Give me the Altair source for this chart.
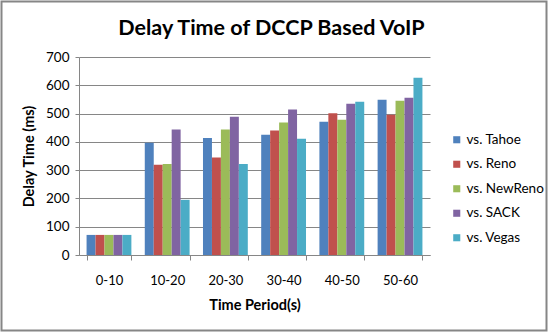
import altair as alt
import pandas as pd

periods = ["0-10", "10-20", "20-30", "30-40", "40-50", "50-60"]
series = ["vs. Tahoe", "vs. Reno", "vs. NewReno", "vs. SACK", "vs. Vegas"]
tahoe = [71, 397, 414, 425, 471, 549]
reno = [71, 319, 345, 440, 501, 496]
newreno = [71, 322, 444, 468, 478, 545]
sack = [71, 444, 489, 514, 535, 556]
vegas = [71, 195, 322, 411, 542, 627]
colors = ["#4F81BD", "#C0504D", "#9BBB59", "#8064A2", "#4BACC6"]
title_text = "Delay Time of DCCP Based VoIP"

rows = []
for name, vals in zip(series, [tahoe, reno, newreno, sack, vegas]):
    for p, v in zip(periods, vals):
        rows.append({"period": p, "series": name, "value": v})
df = pd.DataFrame(rows)

FONT = "Lato"
W, H = 351, 198
L, T, R, B = 79, 57, 118, 77

bars = alt.Chart(df).mark_bar().encode(
    x=alt.X("period:N", sort=periods,
            scale=alt.Scale(paddingInner=0.23, paddingOuter=0.13),
            axis=alt.Axis(title="Time Period(s)", labelAngle=0, tickBand="extent",
                          domainColor="#868686", tickColor="#868686", tickSize=5,
                          labelFont=FONT, labelFontSize=13, labelColor="black",
                          labelPadding=14, titleFont=FONT, titleFontSize=14.5,
                          titleFontWeight="bold", titleColor="black", titlePadding=11)),
    xOffset=alt.XOffset("series:N", sort=series),
    y=alt.Y("value:Q", scale=alt.Scale(domain=[0, 700]),
            axis=alt.Axis(title="Delay Time (ms)", values=list(range(0, 701, 100)),
                          domainColor="#868686", tickColor="#868686", tickSize=4,
                          gridColor="#868686", labelFont=FONT, labelFontSize=13.5,
                          labelColor="black", labelPadding=6, titleFont=FONT,
                          titleFontSize=14.5, titleFontWeight="bold", titleColor="black",
                          titlePadding=9)),
    color=alt.Color("series:N", sort=series,
                    scale=alt.Scale(domain=series, range=colors),
                    legend=alt.Legend(title=None, orient="none", legendX=W + 20,
                                      legendY=76, symbolType="square", symbolSize=50,
                                      symbolStrokeWidth=0, rowPadding=9.5,
                                      labelFont=FONT, labelFontSize=13.5,
                                      labelColor="black", labelOffset=3)),
)

border = alt.Chart(pd.DataFrame({"a": [0]})).mark_rect(
    fill=None, stroke="#868686", strokeWidth=2
).encode(
    x=alt.value(-L + 1.5), x2=alt.value(W + R - 1.5),
    y=alt.value(-T + 1.5), y2=alt.value(H + B - 1.5),
)

title = alt.Chart(pd.DataFrame({"t": [title_text]})).mark_text(
    font=FONT, fontSize=21.5, fontWeight="bold", color="black",
    align="center", baseline="alphabetic"
).encode(
    text="t:N", x=alt.value(W / 2 + 17), y=alt.value(-22),
)

chart = alt.layer(bars, border, title).properties(
    width=W, height=H,
    autosize=alt.AutoSizeParams(type="none"),
    padding={"left": L, "top": T, "right": R, "bottom": B},
).configure_view(stroke=None).configure_axis(grid=False).configure_axisY(grid=True)

chart.save("out.html", embed_options={"renderer": "svg", "actions": False})
